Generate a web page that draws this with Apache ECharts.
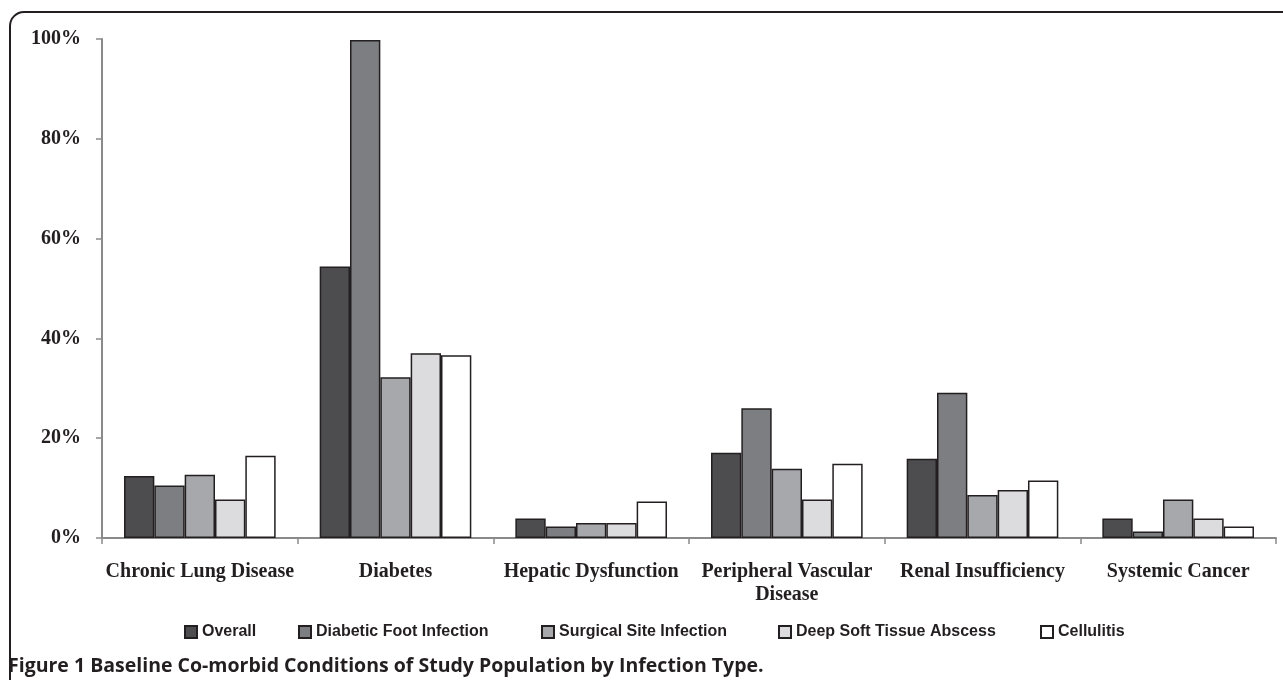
<!DOCTYPE html>
<html>
<head>
<meta charset="utf-8">
<script src="https://cdn.jsdelivr.net/npm/echarts@6/dist/echarts.min.js"></script>
<style>html,body{margin:0;padding:0;background:#fff}#c{width:1283px;height:680px}</style>
</head>
<body>
<div id="c"></div>
<script>
const categories = ["Chronic Lung Disease", "Diabetes", "Hepatic Dysfunction", "Peripheral Vascular\nDisease", "Renal Insufficiency", "Systemic Cancer"];
const seriesNames = ["Overall", "Diabetic Foot Infection", "Surgical Site Infection", "Deep Soft Tissue Abscess", "Cellulitis"];
const overall = [12.4, 54.4, 3.9, 17.1, 15.9, 3.9];
const diabeticFoot = [10.5, 99.8, 2.3, 26.0, 29.1, 1.3];
const surgicalSite = [12.7, 32.2, 3.0, 13.9, 8.6, 7.7];
const deepSoftTissue = [7.7, 37.0, 3.0, 7.7, 9.6, 3.9];
const cellulitis = [16.5, 36.6, 7.3, 14.9, 11.5, 2.3];
const yTicks = [0, 20, 40, 60, 80, 100];
const caption = "Figure 1 Baseline Co-morbid Conditions of Study Population by Infection Type.";

const values = [overall, diabeticFoot, surgicalSite, deepSoftTissue, cellulitis];
const colors = ["#4d4d4f", "#7d7e82", "#a7a8ac", "#dcdcde", "#ffffff"];
const legendLeft = [184, 298, 541, 778, 1040];

const chart = echarts.init(document.getElementById('c'), null, {renderer: 'canvas'});
const option = {
  animation: false,
  backgroundColor: '#ffffff',
  grid: {left: 102, right: 7, top: 39, bottom: 142, containLabel: false},
  legend: seriesNames.map((n, i) => ({
    data: [n], left: legendLeft[i], top: 624, itemWidth: 12, itemHeight: 12, itemGap: 6,
    icon: 'rect', padding: 0,
    textStyle: {fontFamily: 'Liberation Sans', fontWeight: 'bold', fontSize: 16, color: '#231f20'}
  })),
  xAxis: {
    type: 'category',
    data: categories,
    axisLine: {lineStyle: {color: '#8a8a8c', width: 2}},
    axisTick: {show: true, length: 6, lineStyle: {color: '#8a8a8c', width: 1.5}},
    axisLabel: {margin: 22, fontFamily: 'Liberation Serif', fontWeight: 'bold', fontSize: 20, color: '#231f20', lineHeight: 23, interval: 0}
  },
  yAxis: {
    type: 'value', min: 0, max: 100, interval: 20,
    axisLine: {show: true, lineStyle: {color: '#8a8a8c', width: 2}},
    axisTick: {show: true, length: 6, lineStyle: {color: '#8a8a8c', width: 1.5}},
    splitLine: {show: false},
    axisLabel: {margin: 21, fontFamily: 'Liberation Serif', fontWeight: 'bold', fontSize: 20, color: '#231f20',
      formatter: v => yTicks.includes(v) ? v + '%' : ''}
  },
  series: seriesNames.map((n, i) => ({
    name: n, type: 'bar', data: values[i],
    barGap: '0%', barCategoryGap: '22.5%',
    itemStyle: {color: colors[i], borderColor: '#231f20', borderWidth: 1.5}
  })),
  graphic: [
    {type: 'rect', shape: {x: 10, y: 12, width: 1400, height: 800, r: [14, 0, 0, 0]},
     style: {fill: 'none', stroke: '#231f20', lineWidth: 2}, silent: true, z: -1},
    {type: 'text', left: 8, top: 656,
     style: {text: caption, fontFamily: 'Open Sans', fontWeight: 'bold', fontSize: 19.5, fill: '#231f20'}}
  ]
};
chart.setOption(option);
</script>
</body>
</html>
